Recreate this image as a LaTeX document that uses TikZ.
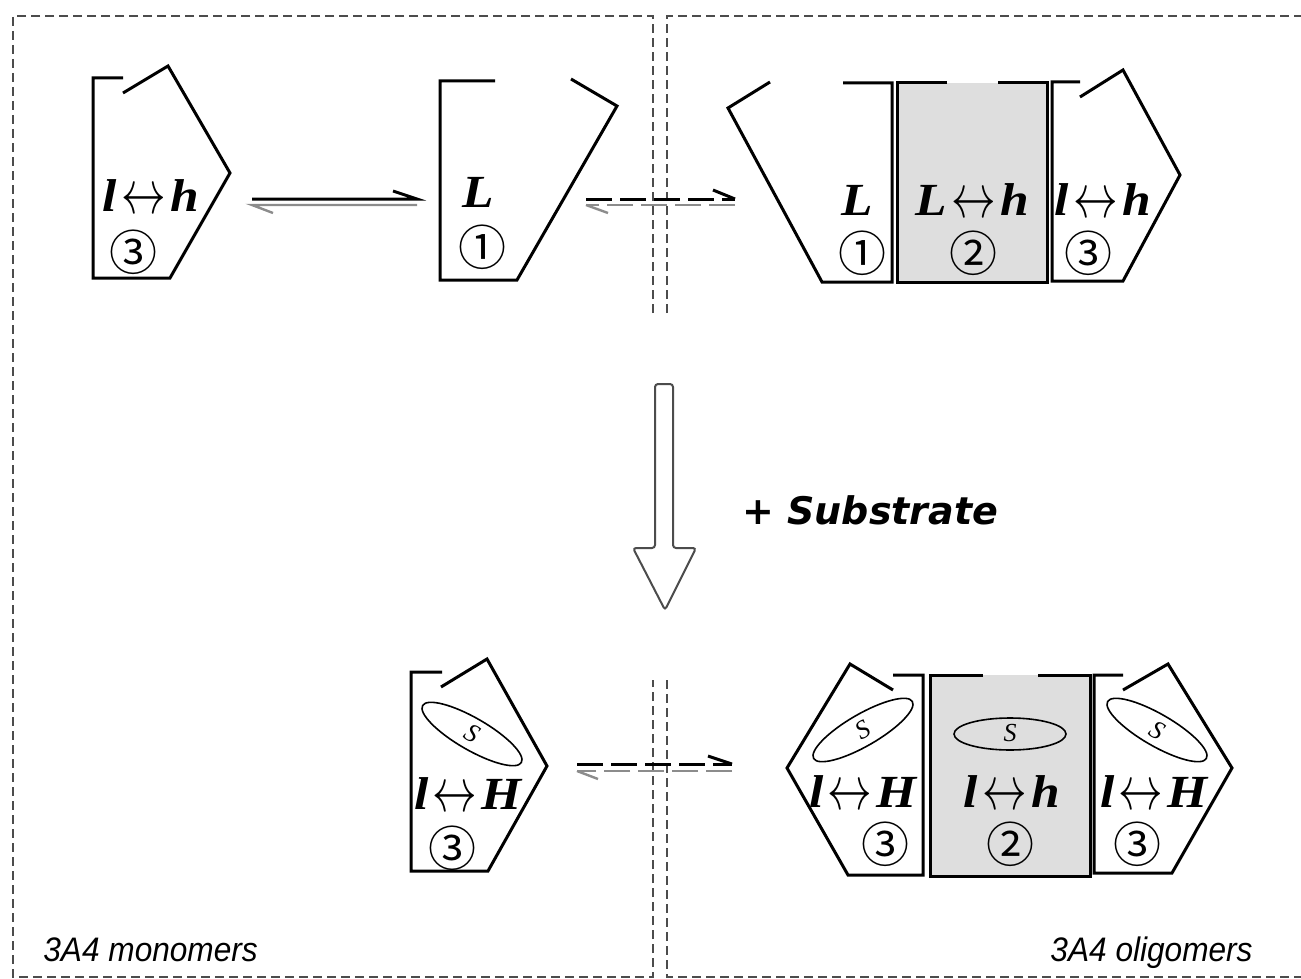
\documentclass[tikz,border=0pt]{standalone}
\usepackage{fontspec}
\setmainfont{Liberation Serif}
\newfontfamily\circfont{Noto Sans CJK SC}
\newfontfamily\labfont{Liberation Sans}
\newfontfamily\subfont{DejaVu Sans}
\usetikzlibrary{shapes.geometric}
\definecolor{boxgray}{HTML}{DEDEDE}
\newcommand{\lrarr}{\kern2pt\smash{\raisebox{-1pt}{\scalebox{0.8}[1.25]{$\leftrightarrow$}}}\kern2pt}
\newcommand{\lab}[1]{\scalebox{1.12}[1]{#1}}
\tikzset{
  unit/.style={line width=1.5pt, line join=miter, line cap=butt},
  lbl/.style={font=\fontsize{23}{26}\selectfont\bfseries\itshape, inner sep=0pt, anchor=base},
  num/.style={font=\circfont\fontsize{24}{26}\selectfont, inner sep=0pt},
  frame/.style={line width=0.75pt, dash pattern=on 4.5pt off 2.5pt, draw=black!70},
  fwd/.style={line width=1.5pt, black},
  bwd/.style={line width=1.2pt, black!45},
  dashpat/.style={dash pattern=on 13pt off 4pt},
  subell/.style={line width=0.8pt},
  subtxt/.style={inner sep=0pt, font=\fontsize{13}{14}\selectfont\itshape},
  bottomlbl/.style={font=\labfont\fontsize{17}{20}\selectfont\itshape, inner sep=0pt, anchor=base west}
}
\begin{document}
\begin{tikzpicture}[x=0.5pt,y=-0.5pt]
\useasboundingbox (0,0) rectangle (1301,979);
% frames
\draw[frame] (653,313)--(653,16)--(13,16)--(13,977)--(653,977)--(653,680);
\draw[frame] (667,313)--(667,16)--(1301,16);
\draw[frame] (667,680)--(667,977)--(1301,977);
% top-left monomer
\draw[unit] (123,78)--(93,78)--(93,278)--(170,278)--(230,173)--(168,66)--(123,93);
\node[lbl] (t3txt) at (151,212) {\lab{l\lrarr h}};
\node[num] (t3num) at (133,252) {③};
% top-middle monomer
\draw[unit] (495,81)--(440,81)--(440,280)--(517,280)--(617,106)--(571,79);
\node[lbl] (t1txt) at (478,207) {\lab{L}};
\node[num] (t1num) at (482,247) {①};
% top oligomer
\draw[unit] (770,82)--(728,108)--(822,282)--(892,282)--(892,83)--(843,83);
\fill[boxgray] (897,83) rectangle (1047,282);
\draw[unit] (947,83)--(897,83)--(897,282)--(1047,282)--(1047,83)--(998,83);
\draw[unit] (1080,82)--(1052,82)--(1052,281)--(1123,281)--(1180,175)--(1123,70)--(1080,97);
\node[lbl] (o1txt) at (857,215) {\lab{L}};
\node[num] (o1num) at (862,253) {①};
\node[lbl] (o2txt) at (972,215) {\lab{L\lrarr h}};
\node[num] (o2num) at (973,253) {②};
\node[lbl] (o3txt) at (1103,215) {\lab{l\lrarr h}};
\node[num] (o3num) at (1088,253) {③};
% top equilibrium arrows
\coordinate (a1s) at (252,199); \coordinate (a1e) at (417,199);
\coordinate (b1s) at (417,205); \coordinate (b1e) at (252,205);
\draw[fwd] (a1s) -- (a1e) -- ++(-24,-8);
\draw[bwd] (b1s) -- (b1e) -- ++(21,8);
\coordinate (a2s) at (586,199); \coordinate (a2e) at (735,199);
\coordinate (b2s) at (735,205); \coordinate (b2e) at (586,205);
\draw[fwd,dashpat] (a2s) -- (a2e);
\draw[fwd] (a2e) -- ++(-22,-9);
\draw[bwd,dashpat] (b2s) -- (b2e);
\draw[bwd] (b2e) -- ++(22,8);
% big arrow
\draw[line width=1pt, draw=black!70, fill=white, rounded corners=1.5pt]
  (655,384)--(673,384)--(673,548)--(696,548)--(665,610)--(633,548)--(655,548)--cycle;
\node[font=\subfont\fontsize{19}{20}\selectfont\bfseries\itshape, inner sep=0pt, anchor=west] (subst) at (742,510) {+ Substrate};
% bottom monomer
\draw[unit] (442,672)--(411,672)--(411,871)--(488,871)--(547,766)--(487,659)--(441,687);
\draw[subell, rotate around={-30:(472,734)}] (472,734) ellipse [x radius=57, y radius=16];
\node[subtxt, rotate=-30] (bs3) at (472,733) {S};
\node[lbl] (b3txt) at (468,809) {\lab{l\lrarr H}};
\node[num] (b3num) at (452,848) {③};
% bottom equilibrium
\coordinate (a3s) at (577,764); \coordinate (a3e) at (732,764);
\coordinate (b3s) at (732,771); \coordinate (b3e) at (577,771);
\draw[fwd,dashpat] (a3s) -- (a3e);
\draw[fwd] (a3e) -- ++(-24,-8);
\draw[bwd,dashpat] (b3s) -- (b3e);
\draw[bwd] (b3e) -- ++(21,8);
% bottom oligomer
\draw[unit] (893,690)--(850,664)--(787,768)--(848,875)--(923,875)--(923,675)--(893,675);
\fill[boxgray] (930,675) rectangle (1090,876);
\draw[unit] (983,675)--(930,675)--(930,876)--(1090,876)--(1090,675)--(1038,675);
\draw[unit] (1123,675)--(1094,675)--(1094,873)--(1172,873)--(1232,768)--(1168,664)--(1123,690);
\draw[subell, rotate around={30:(863,730)}] (863,730) ellipse [x radius=57, y radius=16];
\node[subtxt, rotate=30] (bsl) at (863,730) {S};
\draw[subell] (1010,734) ellipse [x radius=56, y radius=16];
\node[subtxt] (bsm) at (1010,733) {S};
\draw[subell, rotate around={-30:(1157,730)}] (1157,730) ellipse [x radius=57, y radius=16];
\node[subtxt, rotate=-30] (bsr) at (1157,730) {S};
\node[lbl] (bltxt) at (863,807) {\lab{l\lrarr H}};
\node[num] (blnum) at (885,844) {③};
\node[lbl] (bmtxt) at (1012,807) {\lab{l\lrarr h}};
\node[num] (bmnum) at (1010,844) {②};
\node[lbl] (brtxt) at (1154,807) {\lab{l\lrarr H}};
\node[num] (brnum) at (1137,844) {③};
% labels
\node[bottomlbl] (mono) at (43,961) {\scalebox{0.93}[1]{3A4 monomers}};
\node[bottomlbl, anchor=base east] (oligo) at (1253,961) {\scalebox{0.93}[1]{3A4 oligomers}};
\end{tikzpicture}
\end{document}
